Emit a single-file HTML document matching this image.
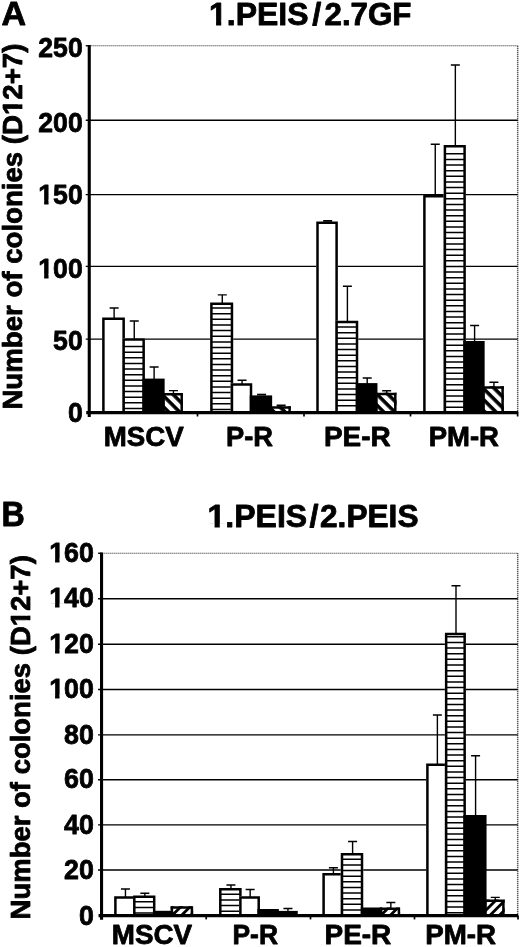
<!DOCTYPE html>
<html><head><meta charset="utf-8"><title>Figure</title>
<style>
html,body{margin:0;padding:0;background:#fff;}
body{width:520px;height:947px;overflow:hidden;font-family:"Liberation Sans",sans-serif;}
svg{display:block;will-change:transform;}
</style></head>
<body>
<svg width="520" height="947" viewBox="0 0 520 947">
<rect width="520" height="947" fill="#fff"/>
<defs><pattern id="p0" patternUnits="userSpaceOnUse" width="16" height="7.778" patternTransform="translate(0 240.80) rotate(45)"><rect width="16" height="7.778" fill="#fff"/><rect width="16" height="3.606" fill="#000"/></pattern><pattern id="p1" patternUnits="userSpaceOnUse" width="16" height="7.778" patternTransform="translate(0 135.40) rotate(45)"><rect width="16" height="7.778" fill="#fff"/><rect width="16" height="3.606" fill="#000"/></pattern><pattern id="p2" patternUnits="userSpaceOnUse" width="16" height="7.778" patternTransform="translate(0 25.70) rotate(45)"><rect width="16" height="7.778" fill="#fff"/><rect width="16" height="3.606" fill="#000"/></pattern><pattern id="p3" patternUnits="userSpaceOnUse" width="16" height="7.778" patternTransform="translate(0 -86.50) rotate(45)"><rect width="16" height="7.778" fill="#fff"/><rect width="16" height="3.606" fill="#000"/></pattern><pattern id="p4" patternUnits="userSpaceOnUse" width="16" height="6.541" patternTransform="translate(0 1094.80) rotate(-45)"><rect width="16" height="6.541" fill="#fff"/><rect width="16" height="2.828" fill="#000"/></pattern><pattern id="p5" patternUnits="userSpaceOnUse" width="16" height="6.541" patternTransform="translate(0 1303.60) rotate(-45)"><rect width="16" height="6.541" fill="#fff"/><rect width="16" height="2.828" fill="#000"/></pattern><pattern id="p6" patternUnits="userSpaceOnUse" width="16" height="6.541" patternTransform="translate(0 1403.40) rotate(-45)"><rect width="16" height="6.541" fill="#fff"/><rect width="16" height="2.828" fill="#000"/></pattern></defs>
<path d="M89.25 45.75H517.7" stroke="#444" stroke-width="1.15" stroke-dasharray="1.2 0.8" fill="none"/><path d="M517.7 45.75V412.7" stroke="#222" stroke-width="1.5" stroke-dasharray="1.1 0.9" fill="none"/><path d="M85.75 120.2H517.7" stroke="#000" stroke-width="1.35" fill="none"/><path d="M85.75 194.6H517.7" stroke="#000" stroke-width="1.35" fill="none"/><path d="M85.75 266.3H517.7" stroke="#000" stroke-width="1.35" fill="none"/><path d="M85.75 339.1H517.7" stroke="#000" stroke-width="1.35" fill="none"/><rect x="102.15" y="317.6" width="22.75" height="95.1" fill="#fff"/><path d="M103.4 412.7V318.85H123.65V412.7" stroke="#000" stroke-width="2.5" fill="none" stroke-linejoin="miter"/><rect x="122.4" y="338.2" width="22.5" height="74.5" fill="#fff"/><path d="M123.65 346.5H143.65M123.65 352.13H143.65M123.65 357.76H143.65M123.65 363.39H143.65M123.65 369.02H143.65M123.65 374.65H143.65M123.65 380.28H143.65M123.65 385.91H143.65M123.65 391.54H143.65M123.65 397.17H143.65M123.65 402.8H143.65M123.65 408.43H143.65" stroke="#000" stroke-width="1.5" fill="none"/><path d="M123.65 412.7V339.45H143.65V412.7" stroke="#000" stroke-width="2.5" fill="none" stroke-linejoin="miter"/><rect x="162.15" y="393.1" width="20.8" height="19.6" fill="url(#p0)"/><path d="M163.4 412.7V394.35H181.7V412.7" stroke="#000" stroke-width="2.5" fill="none" stroke-linejoin="miter"/><rect x="142.4" y="378.6" width="22.25" height="34.1" fill="#000"/><path d="M114.12 308V318.6M109.62 308H118.62" stroke="#000" stroke-width="1.4" fill="none"/><path d="M134.25 321V339.2M129.75 321H138.75" stroke="#000" stroke-width="1.4" fill="none"/><path d="M154.12 367V379.6M149.62 367H158.62" stroke="#000" stroke-width="1.4" fill="none"/><path d="M173.45 390.6V394.1M168.95 390.6H177.95" stroke="#000" stroke-width="1.4" fill="none"/><rect x="210.15" y="302.5" width="23.05" height="110.2" fill="#fff"/><path d="M211.4 308.1H231.95M211.4 313.73H231.95M211.4 319.36H231.95M211.4 324.99H231.95M211.4 330.62H231.95M211.4 336.25H231.95M211.4 341.88H231.95M211.4 347.51H231.95M211.4 353.14H231.95M211.4 358.77H231.95M211.4 364.4H231.95M211.4 370.03H231.95M211.4 375.66H231.95M211.4 381.29H231.95M211.4 386.92H231.95M211.4 392.55H231.95M211.4 398.18H231.95M211.4 403.81H231.95M211.4 409.44H231.95" stroke="#000" stroke-width="1.5" fill="none"/><path d="M211.4 412.7V303.75H231.95V412.7" stroke="#000" stroke-width="2.5" fill="none" stroke-linejoin="miter"/><rect x="230.7" y="383.3" width="21.55" height="29.4" fill="#fff"/><path d="M231.95 412.7V384.55H251V412.7" stroke="#000" stroke-width="2.5" fill="none" stroke-linejoin="miter"/><rect x="269.65" y="406.3" width="21.2" height="6.4" fill="url(#p1)"/><path d="M270.9 412.7V407.55H289.6V412.7" stroke="#000" stroke-width="2.5" fill="none" stroke-linejoin="miter"/><rect x="249.75" y="395.4" width="22.4" height="17.3" fill="#000"/><path d="M222.28 294.9V303.5M217.78 294.9H226.78" stroke="#000" stroke-width="1.4" fill="none"/><path d="M242.07 380.2V384.3M237.57 380.2H246.57" stroke="#000" stroke-width="1.4" fill="none"/><path d="M257.05 394.6H266.05" stroke="#000" stroke-width="1.7999999999999998" fill="none"/><path d="M276.65 405.4H285.65" stroke="#000" stroke-width="1.7999999999999998" fill="none"/><rect x="316.25" y="221.6" width="21.6" height="191.1" fill="#fff"/><path d="M317.5 412.7V222.85H336.6V412.7" stroke="#000" stroke-width="2.5" fill="none" stroke-linejoin="miter"/><rect x="335.35" y="320.8" width="22.9" height="91.9" fill="#fff"/><path d="M336.6 327.05H357M336.6 332.68H357M336.6 338.31H357M336.6 343.94H357M336.6 349.57H357M336.6 355.2H357M336.6 360.83H357M336.6 366.46H357M336.6 372.09H357M336.6 377.72H357M336.6 383.35H357M336.6 388.98H357M336.6 394.61H357M336.6 400.24H357M336.6 405.87H357" stroke="#000" stroke-width="1.5" fill="none"/><path d="M336.6 412.7V322.05H357V412.7" stroke="#000" stroke-width="2.5" fill="none" stroke-linejoin="miter"/><rect x="374.95" y="392.7" width="21.6" height="20" fill="url(#p2)"/><path d="M376.2 412.7V393.95H395.3V412.7" stroke="#000" stroke-width="2.5" fill="none" stroke-linejoin="miter"/><rect x="355.75" y="383.1" width="21.7" height="29.6" fill="#000"/><path d="M323.15 220.9H332.15" stroke="#000" stroke-width="1.7999999999999998" fill="none"/><path d="M347.4 286.2V321.8M342.9 286.2H351.9" stroke="#000" stroke-width="1.4" fill="none"/><path d="M367.2 378V384.1M362.7 378H371.7" stroke="#000" stroke-width="1.4" fill="none"/><path d="M386.65 390.8V393.7M382.15 390.8H391.15" stroke="#000" stroke-width="1.4" fill="none"/><rect x="423.15" y="195" width="23" height="217.7" fill="#fff"/><path d="M424.4 412.7V196.25H444.9V412.7" stroke="#000" stroke-width="2.5" fill="none" stroke-linejoin="miter"/><rect x="443.65" y="145" width="22.2" height="267.7" fill="#fff"/><path d="M444.9 153.8H464.6M444.9 159.43H464.6M444.9 165.06H464.6M444.9 170.69H464.6M444.9 176.32H464.6M444.9 181.95H464.6M444.9 187.58H464.6M444.9 193.21H464.6M444.9 198.84H464.6M444.9 204.47H464.6M444.9 210.1H464.6M444.9 215.73H464.6M444.9 221.36H464.6M444.9 226.99H464.6M444.9 232.62H464.6M444.9 238.25H464.6M444.9 243.88H464.6M444.9 249.51H464.6M444.9 255.14H464.6M444.9 260.77H464.6M444.9 266.4H464.6M444.9 272.03H464.6M444.9 277.66H464.6M444.9 283.29H464.6M444.9 288.92H464.6M444.9 294.55H464.6M444.9 300.18H464.6M444.9 305.81H464.6M444.9 311.44H464.6M444.9 317.07H464.6M444.9 322.7H464.6M444.9 328.33H464.6M444.9 333.96H464.6M444.9 339.59H464.6M444.9 345.22H464.6M444.9 350.85H464.6M444.9 356.48H464.6M444.9 362.11H464.6M444.9 367.74H464.6M444.9 373.37H464.6M444.9 379H464.6M444.9 384.63H464.6M444.9 390.26H464.6M444.9 395.89H464.6M444.9 401.52H464.6M444.9 407.15H464.6" stroke="#000" stroke-width="1.5" fill="none"/><path d="M444.9 412.7V146.25H464.6V412.7" stroke="#000" stroke-width="2.5" fill="none" stroke-linejoin="miter"/><rect x="482.15" y="386.2" width="21.7" height="26.5" fill="url(#p3)"/><path d="M483.4 412.7V387.45H502.6V412.7" stroke="#000" stroke-width="2.5" fill="none" stroke-linejoin="miter"/><rect x="463.35" y="341" width="21.3" height="71.7" fill="#000"/><path d="M435.25 144.2V196M430.75 144.2H439.75" stroke="#000" stroke-width="1.4" fill="none"/><path d="M455.35 65V146M450.85 65H459.85" stroke="#000" stroke-width="1.4" fill="none"/><path d="M474.6 325.5V342M470.1 325.5H479.1" stroke="#000" stroke-width="1.4" fill="none"/><path d="M493.9 382.2V387.2M489.4 382.2H498.4" stroke="#000" stroke-width="1.4" fill="none"/><path d="M89.25 45.05V416.9" stroke="#000" stroke-width="3.1" fill="none"/><path d="M86.25 412.7H518.2" stroke="#000" stroke-width="3.2" fill="none"/><path d="M85.75 45.75H89.25" stroke="#000" stroke-width="1.35" fill="none"/><path d="M197.5 412.7V416.5" stroke="#000" stroke-width="1.7" fill="none"/><path d="M304.0 412.7V416.5" stroke="#000" stroke-width="1.7" fill="none"/><path d="M410.5 412.7V416.5" stroke="#000" stroke-width="1.7" fill="none"/><path d="M517.6 412.7V416.5" stroke="#000" stroke-width="1.7" fill="none"/>
<path d="M101.55 553.25H517.7" stroke="#444" stroke-width="1.15" stroke-dasharray="1.2 0.8" fill="none"/><path d="M517.7 553.25V915.6" stroke="#222" stroke-width="1.5" stroke-dasharray="1.1 0.9" fill="none"/><path d="M98.05 598.7H517.7" stroke="#000" stroke-width="1.35" fill="none"/><path d="M98.05 644.2H517.7" stroke="#000" stroke-width="1.35" fill="none"/><path d="M98.05 689.5H517.7" stroke="#000" stroke-width="1.35" fill="none"/><path d="M98.05 734.9H517.7" stroke="#000" stroke-width="1.35" fill="none"/><path d="M98.05 779.7H517.7" stroke="#000" stroke-width="1.35" fill="none"/><path d="M98.05 824.8H517.7" stroke="#000" stroke-width="1.35" fill="none"/><path d="M98.05 870.0H517.7" stroke="#000" stroke-width="1.35" fill="none"/><rect x="114.15" y="896.3" width="21.4" height="19.3" fill="#fff"/><path d="M115.4 915.6V897.55H134.3V915.6" stroke="#000" stroke-width="2.5" fill="none" stroke-linejoin="miter"/><rect x="133.05" y="895.5" width="22.4" height="20.1" fill="#fff"/><path d="M134.3 901.75H154.2M134.3 907.38H154.2M134.3 913.01H154.2" stroke="#000" stroke-width="1.5" fill="none"/><path d="M134.3 915.6V896.75H154.2V915.6" stroke="#000" stroke-width="2.5" fill="none" stroke-linejoin="miter"/><rect x="170.65" y="906.2" width="22.5" height="9.4" fill="url(#p4)"/><path d="M171.9 915.6V907.45H191.9V915.6" stroke="#000" stroke-width="2.5" fill="none" stroke-linejoin="miter"/><rect x="152.95" y="910.8" width="20.2" height="4.8" fill="#000"/><path d="M125.45 889V897.3M120.95 889H129.95" stroke="#000" stroke-width="1.4" fill="none"/><path d="M144.85 893.2V896.5M140.35 893.2H149.35" stroke="#000" stroke-width="1.4" fill="none"/><rect x="219.05" y="888" width="22.6" height="27.6" fill="#fff"/><path d="M220.3 894.25H240.4M220.3 899.88H240.4M220.3 905.51H240.4M220.3 911.14H240.4" stroke="#000" stroke-width="1.5" fill="none"/><path d="M220.3 915.6V889.25H240.4V915.6" stroke="#000" stroke-width="2.5" fill="none" stroke-linejoin="miter"/><rect x="239.15" y="896.3" width="20.8" height="19.3" fill="#fff"/><path d="M240.4 915.6V897.55H258.7V915.6" stroke="#000" stroke-width="2.5" fill="none" stroke-linejoin="miter"/><rect x="257.45" y="909" width="21.4" height="6.6" fill="#000"/><rect x="276.35" y="910.9" width="21.4" height="4.7" fill="#000"/><path d="M230.95 885V889M226.45 885H235.45" stroke="#000" stroke-width="1.4" fill="none"/><path d="M250.15 889.5V897.3M245.65 889.5H254.65" stroke="#000" stroke-width="1.4" fill="none"/><path d="M287.95 908.5V911.9M283.45 908.5H292.45" stroke="#000" stroke-width="1.4" fill="none"/><rect x="322.35" y="873" width="20.9" height="42.6" fill="#fff"/><path d="M323.6 915.6V874.25H342V915.6" stroke="#000" stroke-width="2.5" fill="none" stroke-linejoin="miter"/><rect x="340.75" y="853" width="22.5" height="62.6" fill="#fff"/><path d="M342 859.25H362M342 864.88H362M342 870.51H362M342 876.14H362M342 881.77H362M342 887.4H362M342 893.03H362M342 898.66H362M342 904.29H362M342 909.92H362" stroke="#000" stroke-width="1.5" fill="none"/><path d="M342 915.6V854.25H362V915.6" stroke="#000" stroke-width="2.5" fill="none" stroke-linejoin="miter"/><rect x="379.75" y="907.5" width="20.4" height="8.1" fill="url(#p5)"/><path d="M381 915.6V908.75H398.9V915.6" stroke="#000" stroke-width="2.5" fill="none" stroke-linejoin="miter"/><rect x="360.75" y="907.5" width="21.5" height="8.1" fill="#000"/><path d="M333.4 867.7V874M328.9 867.7H337.9" stroke="#000" stroke-width="1.4" fill="none"/><path d="M352.6 841.5V854M348.1 841.5H357.1" stroke="#000" stroke-width="1.4" fill="none"/><path d="M390.85 902.5V908.5M386.35 902.5H395.35" stroke="#000" stroke-width="1.4" fill="none"/><rect x="426.15" y="763.5" width="21.25" height="152.1" fill="#fff"/><path d="M427.4 915.6V764.75H446.15V915.6" stroke="#000" stroke-width="2.5" fill="none" stroke-linejoin="miter"/><rect x="444.9" y="632.7" width="21" height="282.9" fill="#fff"/><path d="M446.15 636.85H464.65M446.15 642.48H464.65M446.15 648.11H464.65M446.15 653.74H464.65M446.15 659.37H464.65M446.15 665H464.65M446.15 670.63H464.65M446.15 676.26H464.65M446.15 681.89H464.65M446.15 687.52H464.65M446.15 693.15H464.65M446.15 698.78H464.65M446.15 704.41H464.65M446.15 710.04H464.65M446.15 715.67H464.65M446.15 721.3H464.65M446.15 726.93H464.65M446.15 732.56H464.65M446.15 738.19H464.65M446.15 743.82H464.65M446.15 749.45H464.65M446.15 755.08H464.65M446.15 760.71H464.65M446.15 766.34H464.65M446.15 771.97H464.65M446.15 777.6H464.65M446.15 783.23H464.65M446.15 788.86H464.65M446.15 794.49H464.65M446.15 800.12H464.65M446.15 805.75H464.65M446.15 811.38H464.65M446.15 817.01H464.65M446.15 822.64H464.65M446.15 828.27H464.65M446.15 833.9H464.65M446.15 839.53H464.65M446.15 845.16H464.65M446.15 850.79H464.65M446.15 856.42H464.65M446.15 862.05H464.65M446.15 867.68H464.65M446.15 873.31H464.65M446.15 878.94H464.65M446.15 884.57H464.65M446.15 890.2H464.65M446.15 895.83H464.65M446.15 901.46H464.65M446.15 907.09H464.65M446.15 912.72H464.65" stroke="#000" stroke-width="1.5" fill="none"/><path d="M446.15 915.6V633.95H464.65V915.6" stroke="#000" stroke-width="2.5" fill="none" stroke-linejoin="miter"/><rect x="484.05" y="899.6" width="20.6" height="16" fill="url(#p6)"/><path d="M485.3 915.6V900.85H503.4V915.6" stroke="#000" stroke-width="2.5" fill="none" stroke-linejoin="miter"/><rect x="463.4" y="815" width="23.15" height="100.6" fill="#000"/><path d="M437.38 715V764.5M432.88 715H441.88" stroke="#000" stroke-width="1.4" fill="none"/><path d="M456 585.7V633.7M451.5 585.7H460.5" stroke="#000" stroke-width="1.4" fill="none"/><path d="M475.58 755.7V816M471.08 755.7H480.08" stroke="#000" stroke-width="1.4" fill="none"/><path d="M495.25 897.4V900.6M490.75 897.4H499.75" stroke="#000" stroke-width="1.4" fill="none"/><path d="M101.55 552.55V919.8000000000001" stroke="#000" stroke-width="3.1" fill="none"/><path d="M98.55 915.6H518.2" stroke="#000" stroke-width="3.3" fill="none"/><path d="M98.05 553.25H101.55" stroke="#000" stroke-width="1.35" fill="none"/><path d="M206.2 915.6V919.4" stroke="#000" stroke-width="1.7" fill="none"/><path d="M310.5 915.6V919.4" stroke="#000" stroke-width="1.7" fill="none"/><path d="M414.5 915.6V919.4" stroke="#000" stroke-width="1.7" fill="none"/><path d="M518.0 915.6V919.4" stroke="#000" stroke-width="1.7" fill="none"/>
<text x="1.5" y="25.2" font-size="34" text-anchor="start" font-family="Liberation Sans, sans-serif" font-weight="bold" stroke="#000" stroke-width="0.8" stroke-linejoin="round">A</text>
<text x="209" y="24.8" font-size="31.2" text-anchor="start" font-family="Liberation Sans, sans-serif" font-weight="bold" textLength="99.5" lengthAdjust="spacingAndGlyphs" stroke="#000" stroke-width="0.8" stroke-linejoin="round">1.PEIS</text><rect x="209.52" y="20.52" width="6.55" height="6.18" fill="#fff"/><rect x="221.25" y="20.52" width="5.94" height="6.18" fill="#fff"/>
<text x="312.2" y="24.8" font-size="31.2" text-anchor="start" font-family="Liberation Sans, sans-serif" font-weight="bold" textLength="9" lengthAdjust="spacingAndGlyphs" stroke="#000" stroke-width="0.8" stroke-linejoin="round">/</text>
<text x="324.5" y="24.8" font-size="31.2" text-anchor="start" font-family="Liberation Sans, sans-serif" font-weight="bold" textLength="87" lengthAdjust="spacingAndGlyphs" stroke="#000" stroke-width="0.8" stroke-linejoin="round">2.7GF</text>
<text x="82.7" y="57.2" font-size="28.5" text-anchor="end" font-family="Liberation Sans, sans-serif" font-weight="bold" textLength="44.4" lengthAdjust="spacingAndGlyphs" stroke="#000" stroke-width="0.8" stroke-linejoin="round">250</text>
<text x="82.7" y="132.35" font-size="28.5" text-anchor="end" font-family="Liberation Sans, sans-serif" font-weight="bold" textLength="44.4" lengthAdjust="spacingAndGlyphs" stroke="#000" stroke-width="0.8" stroke-linejoin="round">200</text>
<text x="82.7" y="203.6" font-size="28.5" text-anchor="end" font-family="Liberation Sans, sans-serif" font-weight="bold" textLength="44.4" lengthAdjust="spacingAndGlyphs" stroke="#000" stroke-width="0.8" stroke-linejoin="round">150</text><rect x="38.48" y="199.59" width="5.64" height="5.91" fill="#fff"/><rect x="48.56" y="199.59" width="5.10" height="5.91" fill="#fff"/>
<text x="82.7" y="277.8" font-size="28.5" text-anchor="end" font-family="Liberation Sans, sans-serif" font-weight="bold" textLength="44.4" lengthAdjust="spacingAndGlyphs" stroke="#000" stroke-width="0.8" stroke-linejoin="round">100</text><rect x="38.48" y="273.79" width="5.64" height="5.91" fill="#fff"/><rect x="48.56" y="273.79" width="5.10" height="5.91" fill="#fff"/>
<text x="82.7" y="350.1" font-size="28.5" text-anchor="end" font-family="Liberation Sans, sans-serif" font-weight="bold" textLength="29.6" lengthAdjust="spacingAndGlyphs" stroke="#000" stroke-width="0.8" stroke-linejoin="round">50</text>
<text x="82.7" y="421.6" font-size="28.5" text-anchor="end" font-family="Liberation Sans, sans-serif" font-weight="bold" textLength="14.8" lengthAdjust="spacingAndGlyphs" stroke="#000" stroke-width="0.8" stroke-linejoin="round">0</text>
<text x="103.8" y="445.9" font-size="27.7" text-anchor="start" font-family="Liberation Sans, sans-serif" font-weight="bold" textLength="79.9" lengthAdjust="spacingAndGlyphs" stroke="#000" stroke-width="0.8" stroke-linejoin="round">MSCV</text>
<text x="226" y="445.9" font-size="27.7" text-anchor="start" font-family="Liberation Sans, sans-serif" font-weight="bold" textLength="47" lengthAdjust="spacingAndGlyphs" stroke="#000" stroke-width="0.8" stroke-linejoin="round">P-R</text>
<text x="324" y="445.9" font-size="27.7" text-anchor="start" font-family="Liberation Sans, sans-serif" font-weight="bold" textLength="66.7" lengthAdjust="spacingAndGlyphs" stroke="#000" stroke-width="0.8" stroke-linejoin="round">PE-R</text>
<text x="428.7" y="445.9" font-size="27.7" text-anchor="start" font-family="Liberation Sans, sans-serif" font-weight="bold" textLength="70.3" lengthAdjust="spacingAndGlyphs" stroke="#000" stroke-width="0.8" stroke-linejoin="round">PM-R</text>
<g transform="translate(21.8 409.6) rotate(-90)"><text x="0" y="0" font-size="27.4" text-anchor="start" font-family="Liberation Sans, sans-serif" font-weight="bold" textLength="366" lengthAdjust="spacingAndGlyphs" stroke="#000" stroke-width="0.8" stroke-linejoin="round">Number of colonies (D12+7)</text><rect x="294.83" y="-3.89" width="5.81" height="5.79" fill="#fff"/><rect x="305.23" y="-3.89" width="5.26" height="5.79" fill="#fff"/></g>
<text x="1.5" y="525.8" font-size="34.3" text-anchor="start" font-family="Liberation Sans, sans-serif" font-weight="bold" textLength="23.3" lengthAdjust="spacingAndGlyphs" stroke="#000" stroke-width="0.8" stroke-linejoin="round">B</text>
<text x="207.5" y="527.4" font-size="31.2" text-anchor="start" font-family="Liberation Sans, sans-serif" font-weight="bold" textLength="99.7" lengthAdjust="spacingAndGlyphs" stroke="#000" stroke-width="0.8" stroke-linejoin="round">1.PEIS</text><rect x="208.02" y="523.12" width="6.56" height="6.18" fill="#fff"/><rect x="219.78" y="523.12" width="5.95" height="6.18" fill="#fff"/>
<text x="309.5" y="527.4" font-size="31.2" text-anchor="start" font-family="Liberation Sans, sans-serif" font-weight="bold" textLength="9" lengthAdjust="spacingAndGlyphs" stroke="#000" stroke-width="0.8" stroke-linejoin="round">/</text>
<text x="320" y="527.4" font-size="31.2" text-anchor="start" font-family="Liberation Sans, sans-serif" font-weight="bold" textLength="98.5" lengthAdjust="spacingAndGlyphs" stroke="#000" stroke-width="0.8" stroke-linejoin="round">2.PEIS</text>
<text x="93.9" y="562.1" font-size="28.5" text-anchor="end" font-family="Liberation Sans, sans-serif" font-weight="bold" textLength="44.7" lengthAdjust="spacingAndGlyphs" stroke="#000" stroke-width="0.8" stroke-linejoin="round">160</text><rect x="49.39" y="558.09" width="5.67" height="5.91" fill="#fff"/><rect x="59.53" y="558.09" width="5.13" height="5.91" fill="#fff"/>
<text x="93.9" y="607.4" font-size="28.5" text-anchor="end" font-family="Liberation Sans, sans-serif" font-weight="bold" textLength="44.7" lengthAdjust="spacingAndGlyphs" stroke="#000" stroke-width="0.8" stroke-linejoin="round">140</text><rect x="49.39" y="603.39" width="5.67" height="5.91" fill="#fff"/><rect x="59.53" y="603.39" width="5.13" height="5.91" fill="#fff"/>
<text x="93.9" y="652.9" font-size="28.5" text-anchor="end" font-family="Liberation Sans, sans-serif" font-weight="bold" textLength="44.7" lengthAdjust="spacingAndGlyphs" stroke="#000" stroke-width="0.8" stroke-linejoin="round">120</text><rect x="49.39" y="648.89" width="5.67" height="5.91" fill="#fff"/><rect x="59.53" y="648.89" width="5.13" height="5.91" fill="#fff"/>
<text x="93.9" y="698.2" font-size="28.5" text-anchor="end" font-family="Liberation Sans, sans-serif" font-weight="bold" textLength="44.7" lengthAdjust="spacingAndGlyphs" stroke="#000" stroke-width="0.8" stroke-linejoin="round">100</text><rect x="49.39" y="694.19" width="5.67" height="5.91" fill="#fff"/><rect x="59.53" y="694.19" width="5.13" height="5.91" fill="#fff"/>
<text x="93.9" y="743.6" font-size="28.5" text-anchor="end" font-family="Liberation Sans, sans-serif" font-weight="bold" textLength="29.8" lengthAdjust="spacingAndGlyphs" stroke="#000" stroke-width="0.8" stroke-linejoin="round">80</text>
<text x="93.9" y="788.4" font-size="28.5" text-anchor="end" font-family="Liberation Sans, sans-serif" font-weight="bold" textLength="29.8" lengthAdjust="spacingAndGlyphs" stroke="#000" stroke-width="0.8" stroke-linejoin="round">60</text>
<text x="93.9" y="833.5" font-size="28.5" text-anchor="end" font-family="Liberation Sans, sans-serif" font-weight="bold" textLength="29.8" lengthAdjust="spacingAndGlyphs" stroke="#000" stroke-width="0.8" stroke-linejoin="round">40</text>
<text x="93.9" y="878.7" font-size="28.5" text-anchor="end" font-family="Liberation Sans, sans-serif" font-weight="bold" textLength="29.8" lengthAdjust="spacingAndGlyphs" stroke="#000" stroke-width="0.8" stroke-linejoin="round">20</text>
<text x="93.9" y="924.5" font-size="28.5" text-anchor="end" font-family="Liberation Sans, sans-serif" font-weight="bold" textLength="14.9" lengthAdjust="spacingAndGlyphs" stroke="#000" stroke-width="0.8" stroke-linejoin="round">0</text>
<text x="111.8" y="944.4" font-size="27.7" text-anchor="start" font-family="Liberation Sans, sans-serif" font-weight="bold" textLength="80.2" lengthAdjust="spacingAndGlyphs" stroke="#000" stroke-width="0.8" stroke-linejoin="round">MSCV</text>
<text x="232.5" y="944.4" font-size="27.7" text-anchor="start" font-family="Liberation Sans, sans-serif" font-weight="bold" textLength="45.5" lengthAdjust="spacingAndGlyphs" stroke="#000" stroke-width="0.8" stroke-linejoin="round">P-R</text>
<text x="324.5" y="944.4" font-size="27.7" text-anchor="start" font-family="Liberation Sans, sans-serif" font-weight="bold" textLength="66.8" lengthAdjust="spacingAndGlyphs" stroke="#000" stroke-width="0.8" stroke-linejoin="round">PE-R</text>
<text x="425.2" y="944.4" font-size="27.7" text-anchor="start" font-family="Liberation Sans, sans-serif" font-weight="bold" textLength="70.8" lengthAdjust="spacingAndGlyphs" stroke="#000" stroke-width="0.8" stroke-linejoin="round">PM-R</text>
<g transform="translate(29.9 919.4) rotate(-90)"><text x="0" y="0" font-size="27.4" text-anchor="start" font-family="Liberation Sans, sans-serif" font-weight="bold" textLength="364.2" lengthAdjust="spacingAndGlyphs" stroke="#000" stroke-width="0.8" stroke-linejoin="round">Number of colonies (D12+7)</text><rect x="293.37" y="-3.89" width="5.79" height="5.79" fill="#fff"/><rect x="303.74" y="-3.89" width="5.24" height="5.79" fill="#fff"/></g>
</svg>
</body></html>
